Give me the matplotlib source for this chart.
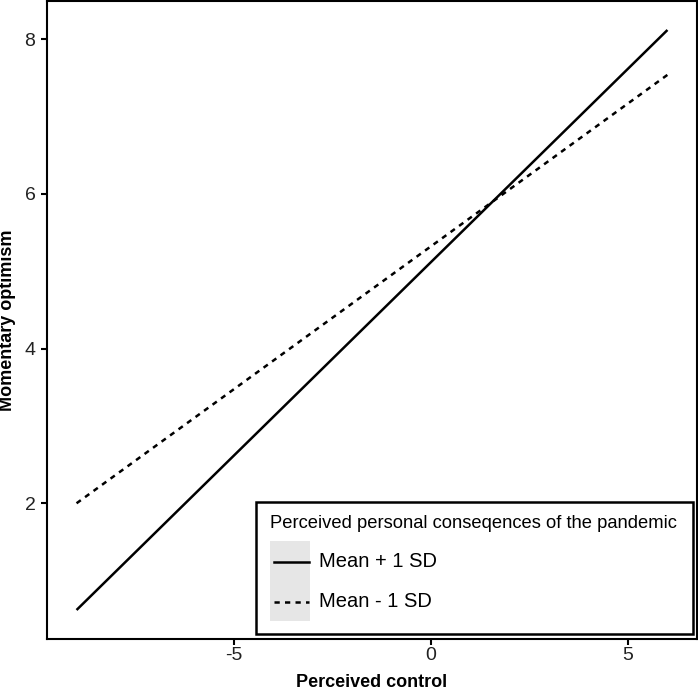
import matplotlib
matplotlib.use("Agg")
import matplotlib.pyplot as plt
from matplotlib.patches import Rectangle

plt.rcParams['font.family'] = ['Liberation Sans', 'DejaVu Sans']
plt.rcParams['axes.unicode_minus'] = False

# perceived control range used for the simple slopes
control = [-9, 6]
# predicted momentary optimism at the two ends
high_sd = [0.62, 8.12]   # Mean + 1 SD
low_sd = [2.0, 7.54]     # Mean - 1 SD
x_ticks = [-5, 0, 5]
y_ticks = [2, 4, 6, 8]
legend_title = "Perceived personal conseqences of the pandemic"
legend_labels = ["Mean + 1 SD", "Mean - 1 SD"]

fig = plt.figure(figsize=(6.98, 6.91), dpi=100)
ax = fig.add_axes([47/698, 1 - 639/691, 650/698, 638/691])

ax.plot(control, high_sd, color='black', lw=1.8, solid_capstyle='butt')
ax.plot(control, low_sd, color='black', lw=1.8, linestyle=(0, (2.1, 2.1)))

ax.set_xlim(-9.75, 6.75)
ax.set_ylim(0.245, 8.495)
ax.set_xticks(x_ticks)
ax.set_yticks(y_ticks)
ax.tick_params(direction='out', length=4.3, width=1.5, labelsize=14,
               colors='black', labelcolor='#222222')
ax.tick_params(axis='x', pad=1.5)
ax.tick_params(axis='y', pad=4)
for s in ax.spines.values():
    s.set_linewidth(1.5)
ax.set_xlabel("Perceived control", fontsize=13, fontweight='bold', labelpad=7)
ax.set_ylabel("Momentary optimism", fontsize=13, fontweight='bold', labelpad=6)

# legend drawn by hand so the keys get the grey ggplot background
T = ax.transAxes
ax.add_patch(Rectangle((0.3215, 0.0078), 0.6723, 0.2069, transform=T,
                       facecolor='white', edgecolor='black', lw=1.8, zorder=5))
ax.text(0.343, 0.1803, legend_title, transform=T, fontsize=13.2,
        va='center', ha='left', zorder=6)
ax.add_patch(Rectangle((0.343, 0.0282), 0.0615, 0.1254, transform=T,
                       facecolor='#e6e6e6', edgecolor='none', zorder=6))
ax.plot([0.349, 0.403], [0.1207, 0.1207], transform=T, color='black', lw=1.8, zorder=7)
ax.plot([0.349, 0.403], [0.058, 0.058], transform=T, color='black', lw=1.8,
        linestyle=(0, (2.1, 2.1)), zorder=7)
ax.text(0.418, 0.1207, legend_labels[0], transform=T, fontsize=14.5, va='center', zorder=7)
ax.text(0.418, 0.058, legend_labels[1], transform=T, fontsize=14.5, va='center', zorder=7)

fig.savefig("out.png", dpi=100)
